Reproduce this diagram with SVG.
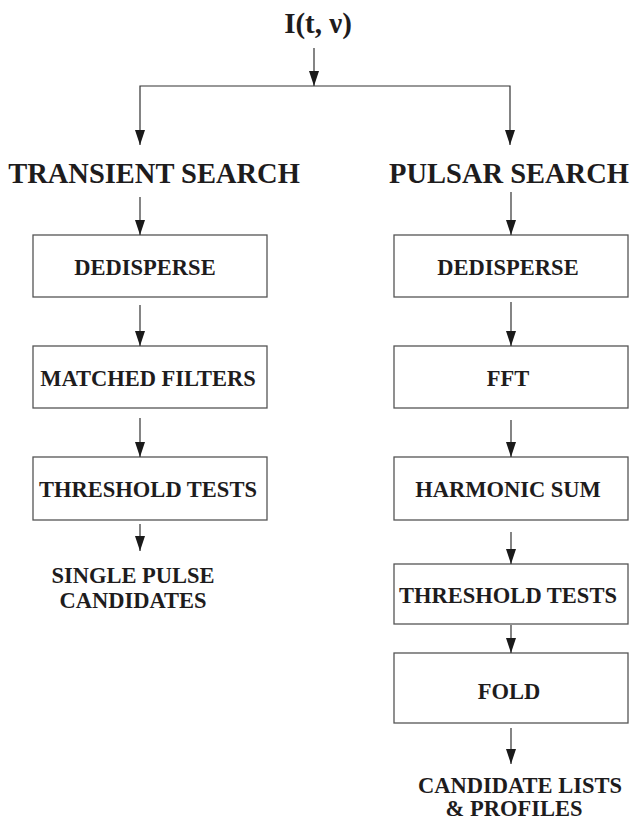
<svg xmlns="http://www.w3.org/2000/svg" width="632" height="822" viewBox="0 0 632 822">
<style>
text{font-family:"Liberation Serif","Times New Roman",serif;font-weight:bold;fill:#1e1c1d;text-anchor:middle}
.h{font-size:28.5px}
.b{font-size:22.5px}
.box{fill:#fff;stroke:#555;stroke-width:1.3}
.c{fill:none;stroke:#333;stroke-width:1.2;marker-end:url(#ah)}
</style>
<defs>
<marker id="ah" viewBox="0 0 15 10" refX="15" refY="5" markerWidth="15" markerHeight="10" markerUnits="userSpaceOnUse" orient="auto">
<path d="M0,0 L15,5 L0,10 Z" fill="#1a1a1a"/>
</marker>
</defs>
<rect width="632" height="822" fill="#fff"/>
<g id="input"><text x="318" y="33" style="font-size:29px">I(t, ν)</text></g>
<g id="transient-heading"><text class="h" x="154" y="183">TRANSIENT SEARCH</text></g>
<g id="pulsar-heading"><text class="h" x="509" y="183">PULSAR SEARCH</text></g>
<g id="t-dedisperse"><rect class="box" x="33" y="235" width="234" height="62"/><text class="b" x="145" y="275">DEDISPERSE</text></g>
<g id="t-matched"><rect class="box" x="33" y="346" width="234" height="62"/><text class="b" x="148" y="386">MATCHED FILTERS</text></g>
<g id="t-threshold"><rect class="box" x="33" y="457" width="234" height="63"/><text class="b" x="148" y="497">THRESHOLD TESTS</text></g>
<g id="t-output"><text class="b" x="133" y="583">SINGLE PULSE</text><text class="b" x="133" y="608">CANDIDATES</text></g>
<g id="p-dedisperse"><rect class="box" x="394" y="235" width="234" height="62"/><text class="b" x="508" y="275">DEDISPERSE</text></g>
<g id="p-fft"><rect class="box" x="394" y="346" width="234" height="62"/><text class="b" x="508" y="386">FFT</text></g>
<g id="p-harmonic"><rect class="box" x="394" y="457" width="234" height="63"/><text class="b" x="508" y="497">HARMONIC SUM</text></g>
<g id="p-threshold"><rect class="box" x="394" y="564" width="234" height="60"/><text class="b" x="508" y="603">THRESHOLD TESTS</text></g>
<g id="p-fold"><rect class="box" x="394" y="653" width="234" height="70"/><text class="b" x="509" y="699">FOLD</text></g>
<g id="p-output"><text class="b" x="520" y="793">CANDIDATE LISTS</text><text class="b" x="514" y="816">&amp; PROFILES</text></g>
<g id="connectors">
<path class="c" d="M314,48 V86"/>
<path class="c" d="M314,86 H140 V145"/>
<path class="c" d="M314,86 H510 V145"/>
<path class="c" d="M140,197 V235"/>
<path class="c" d="M140,305 V346"/>
<path class="c" d="M140,418 V457"/>
<path class="c" d="M140,524 V551"/>
<path class="c" d="M511,192 V235"/>
<path class="c" d="M511,302 V346"/>
<path class="c" d="M511,420 V457"/>
<path class="c" d="M511,532 V564"/>
<path class="c" d="M511,625 V653"/>
<path class="c" d="M511,728 V764"/>
</g>
</svg>
